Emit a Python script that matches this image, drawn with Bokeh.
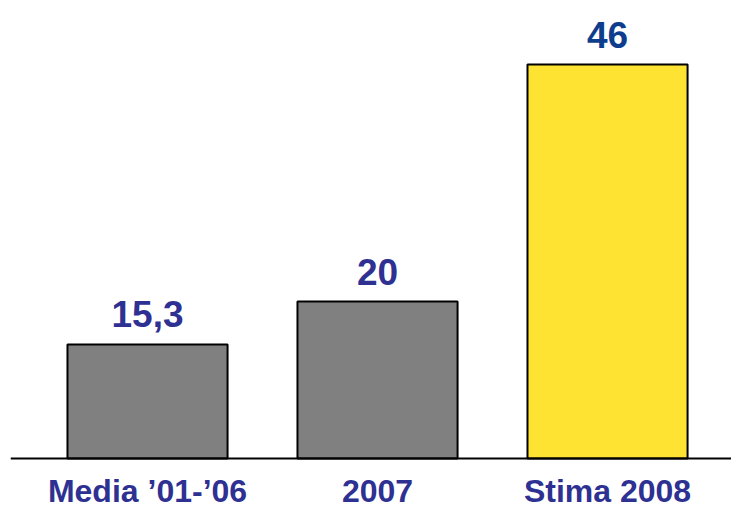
from bokeh.plotting import figure
from bokeh.models import ColumnDataSource, Range1d, Span
from bokeh.embed import file_html
from bokeh.resources import INLINE
from bokeh.core.properties import value

# ---- data ----
categories = ["Media \u201901-\u201906", "2007", "Stima 2008"]
values = [15.3, 20, 46]

# ---- styles ----
bar_colors = ["#808080", "#808080", "#FFE333"]
label_colors = ["#2E3192", "#2E3192", "#0E3D8E"]
FONT = "Liberation Sans"

# value-axis origin (truncated axis, as in the reference)
axis_origin = 2.78

xs = list(range(len(categories)))
texts = [f"{v:g}".replace(".", ",") for v in values]

src = ColumnDataSource(dict(x=xs, top=values, color=bar_colors,
                            text=texts, tcolor=label_colors, cat=categories))

p = figure(width=731, height=509, output_backend="svg", toolbar_location=None,
           x_range=Range1d(-0.5957, 2.539), y_range=Range1d(-2.815, 53.03),
           min_border_left=10, min_border_right=0, min_border_top=0,
           min_border_bottom=0)

p.vbar(x="x", top="top", bottom=axis_origin, width=0.696, source=src,
       fill_color="color", line_color="#000000", line_width=2)

# value labels above the bars
p.text(x="x", y="top", text="text", source=src, text_color="tcolor",
       text_font=value(FONT), text_font_style="bold", text_font_size="37px",
       text_align="center", text_baseline="alphabetic", y_offset=-30)

# category labels under the baseline
p.text(x="x", y=axis_origin, text="cat", source=src, text_color="#2E3192",
       text_font=value(FONT), text_font_style="bold", text_font_size="32px",
       text_align="center", text_baseline="alphabetic", y_offset=32)

p.add_layout(Span(location=axis_origin, dimension="width",
                  line_color="#000000", line_width=2))

p.xaxis.visible = False
p.yaxis.visible = False
p.xgrid.visible = False
p.ygrid.visible = False
p.outline_line_color = None

open("out.html", "w").write(file_html(p, INLINE))
